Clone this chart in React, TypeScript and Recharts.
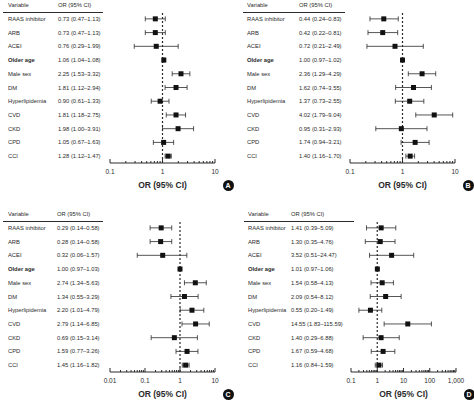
import React from "react";
import {
  ScatterChart,
  Scatter,
  XAxis,
  YAxis,
  ErrorBar,
  ReferenceLine,
} from "recharts";

const variables = [
  "RAAS inhibitor",
  "ARB",
  "ACEI",
  "Older age",
  "Male sex",
  "DM",
  "Hyperlipidemia",
  "CVD",
  "CKD",
  "CPD",
  "CCI",
];

// panel A
const orA = [0.73, 0.73, 0.76, 1.06, 2.25, 1.81, 0.9, 1.81, 1.98, 1.05, 1.28];
const loA = [0.47, 0.47, 0.29, 1.04, 1.53, 1.12, 0.61, 1.18, 1.0, 0.67, 1.12];
const hiA = [1.13, 1.13, 1.99, 1.08, 3.32, 2.94, 1.33, 2.75, 3.91, 1.63, 1.47];

// panel B
const orB = [0.44, 0.42, 0.72, 1.0, 2.36, 1.62, 1.37, 4.02, 0.95, 1.74, 1.4];
const loB = [0.24, 0.22, 0.21, 0.97, 1.29, 0.74, 0.73, 1.79, 0.31, 0.94, 1.16];
const hiB = [0.83, 0.81, 2.49, 1.02, 4.29, 3.55, 2.55, 9.04, 2.93, 3.21, 1.7];

// panel C
const orC = [0.29, 0.28, 0.32, 1.0, 2.74, 1.34, 2.2, 2.79, 0.69, 1.59, 1.45];
const loC = [0.14, 0.14, 0.06, 0.97, 1.34, 0.55, 1.01, 1.14, 0.15, 0.77, 1.16];
const hiC = [0.58, 0.58, 1.57, 1.03, 5.63, 3.29, 4.79, 6.85, 3.14, 3.26, 1.82];

// panel D
const orD = [1.41, 1.3, 3.52, 1.01, 1.54, 2.09, 0.55, 14.55, 1.4, 1.67, 1.16];
const loD = [0.39, 0.35, 0.51, 0.97, 0.58, 0.54, 0.2, 1.83, 0.29, 0.59, 0.84];
const hiD = [5.09, 4.76, 24.47, 1.06, 4.13, 8.12, 1.49, 115.59, 6.88, 4.68, 1.59];

const decadesAB = [0.1, 1, 10];
const decadesC = [0.01, 0.1, 1, 10];
const decadesD = [0.1, 1, 10, 100, 1000];

const FONT = "'Liberation Sans', Arial, sans-serif";
const INK = "#2b2b2b";

const fmt = (v: number) => v.toFixed(2);
const fmtTick = (v: number) => (v >= 1000 ? v.toLocaleString("en-US") : String(v));

const buildTicks = (decades: number[]) => {
  const out: number[] = [];
  decades.forEach((d, i) => {
    out.push(d);
    if (i < decades.length - 1) for (let m = 2; m <= 9; m++) out.push(+(d * m).toPrecision(3));
  });
  return out;
};

const ForestPanel = ({
  left,
  top,
  letter,
  or,
  lo,
  hi,
  decades,
  nameX,
  orX,
  ruleEnd,
}: {
  left: number;
  top: number;
  letter: string;
  or: number[];
  lo: number[];
  hi: number[];
  decades: number[];
  nameX: number;
  orX: number;
  ruleEnd: number;
}) => {
  const data = variables.map((name, i) => ({
    name,
    or: or[i],
    err: [or[i] - lo[i], hi[i] - or[i]],
    label: `${fmt(or[i])} (${fmt(lo[i])}\u2013${fmt(hi[i])})`,
  }));
  const majors = new Set(decades);

  const YTick = (p: any) => {
    const row = data.find((d) => d.name === p.payload.value);
    const bold = p.payload.value === "Older age";
    return (
      <g fontFamily={FONT} fontSize={5.8} fill={INK}>
        <text x={nameX} y={p.y} dy={2} fontWeight={bold ? 700 : 400}>
          {p.payload.value}
        </text>
        <text x={orX} y={p.y} dy={2}>
          {row ? row.label : ""}
        </text>
      </g>
    );
  };

  const XTick = (p: any) => {
    const v = p.payload.value;
    const major = majors.has(v);
    return (
      <g>
        <line x1={p.x} x2={p.x} y1={p.y} y2={p.y - (major ? 4 : 2)} stroke={INK} strokeWidth={1} />
        {major && (
          <text x={p.x} y={p.y + 11} textAnchor="middle" fontFamily={FONT} fontSize={6.5} fill={INK}>
            {fmtTick(v)}
          </text>
        )}
      </g>
    );
  };

  return (
    <div style={{ position: "absolute", left, top, width: 237, height: 200 }}>
      <ScatterChart width={237} height={200} margin={{ top: 12, right: 22, left: 0, bottom: 0 }}>
        <XAxis
          type="number"
          dataKey="or"
          scale="log"
          domain={[decades[0], decades[decades.length - 1]]}
          ticks={buildTicks(decades)}
          interval={0}
          allowDataOverflow
          height={37}
          tickLine={false}
          tickSize={0}
          tickMargin={0}
          axisLine={{ stroke: INK, strokeWidth: 1 }}
          tick={XTick}
        />
        <YAxis
          type="category"
          dataKey="name"
          width={110}
          reversed
          axisLine={false}
          tickLine={false}
          interval={0}
          tick={YTick}
        />
        <ReferenceLine x={1} stroke={INK} strokeWidth={1.2} strokeDasharray="2 2" />
        <Scatter
          data={data}
          isAnimationActive={false}
          shape={(p: any) => (
            <rect x={p.cx - 2.5} y={p.cy - 2.5} width={5} height={5} fill="#111" />
          )}
        >
          <ErrorBar dataKey="err" direction="x" width={2.5} stroke={INK} strokeWidth={0.8} />
        </Scatter>
      </ScatterChart>
      <div
        style={{
          position: "absolute",
          top: 1,
          left: nameX,
          fontFamily: FONT,
          fontSize: 5.8,
          color: INK,
          lineHeight: "8px",
        }}
      >
        Variable
      </div>
      <div
        style={{
          position: "absolute",
          top: 1,
          left: orX,
          fontFamily: FONT,
          fontSize: 5.8,
          color: INK,
          lineHeight: "8px",
        }}
      >
        OR (95% CI)
      </div>
      <div
        style={{ position: "absolute", top: 11.5, left: 3, width: ruleEnd - 3, height: 1, background: INK }}
      />
      <div
        style={{
          position: "absolute",
          top: 180,
          left: 110,
          width: 105,
          textAlign: "center",
          fontFamily: FONT,
          fontWeight: 700,
          fontSize: 8.5,
          color: INK,
          lineHeight: "10px",
        }}
      >
        OR (95% CI)
      </div>
      <div
        style={{
          position: "absolute",
          top: 179.5,
          left: 222.5,
          width: 11,
          height: 11,
          borderRadius: "50%",
          background: "#111",
          color: "#fff",
          fontFamily: FONT,
          fontWeight: 700,
          fontSize: 7,
          lineHeight: "11px",
          textAlign: "center",
        }}
      >
        {letter}
      </div>
    </div>
  );
}

export default function App() {
  return (
    <div style={{ position: "absolute", left: 0, top: 0, width: 474, height: 404, background: "#fff" }}>
      <ForestPanel left={0} top={0} letter="A" or={orA} lo={loA} hi={hiA} decades={decadesAB} nameX={8} orX={58} ruleEnd={103} />
      <ForestPanel left={240} top={0} letter="B" or={orB} lo={loB} hi={hiB} decades={decadesAB} nameX={7} orX={59} ruleEnd={105} />
      <ForestPanel left={0} top={209} letter="C" or={orC} lo={loC} hi={hiC} decades={decadesC} nameX={8} orX={57} ruleEnd={103} />
      <ForestPanel left={241} top={209} letter="D" or={orD} lo={loD} hi={hiD} decades={decadesD} nameX={7} orX={50} ruleEnd={113} />
    </div>
  );
}
